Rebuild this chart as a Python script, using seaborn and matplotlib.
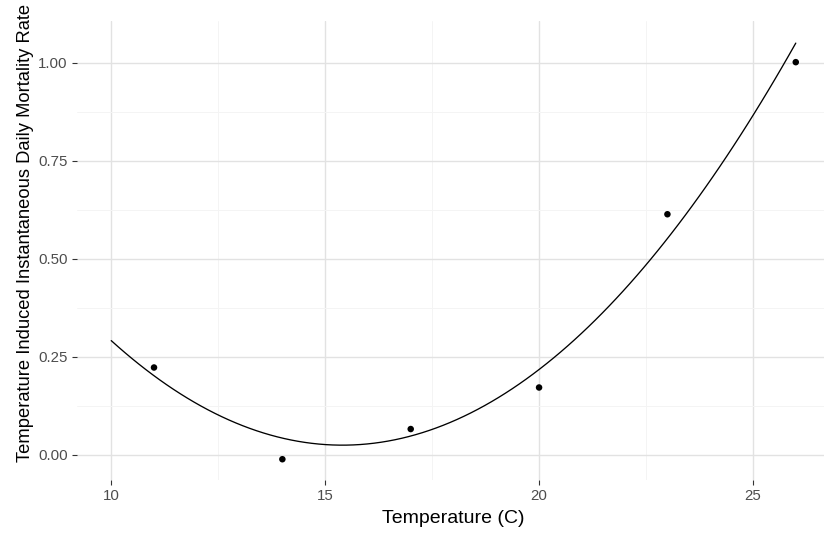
import matplotlib
matplotlib.use("Agg")
import matplotlib.pyplot as plt
import seaborn as sns
import pandas as pd
from matplotlib.ticker import FixedLocator

# Observed points
temperature = [11, 14, 17, 20, 23, 26]
mortality = [0.223, -0.011, 0.066, 0.172, 0.614, 1.002]

# Fitted quadratic curve
curve_temp = [10, 11, 12, 13, 14, 15, 16, 17, 18, 19, 20, 21, 22, 23, 24, 25, 26]
curve_rate = [0.286, 0.199, 0.133, 0.082, 0.047, 0.031, 0.030, 0.050, 0.084,
              0.140, 0.212, 0.312, 0.420, 0.550, 0.697, 0.870, 1.054]

x_ticks = [10, 15, 20, 25]
x_minor = [12.5, 17.5, 22.5]
y_ticks = [0.00, 0.25, 0.50, 0.75, 1.00]
y_minor = [0.125, 0.375, 0.625, 0.875]
y_tick_labels = ["0.00", "0.25", "0.50", "0.75", "1.00"]

sns.set_style("white")
plt.rcParams["font.family"] = ["Liberation Sans", "DejaVu Sans"]

fig = plt.figure(figsize=(8.24, 5.40), dpi=100)
W, H = 824, 540
left, right, top, bottom = 77, 830, 21, 480
ax = fig.add_axes([left / W, (H - bottom) / H, (right - left) / W, (bottom - top) / H])

pts = pd.DataFrame({"temp": temperature, "rate": mortality})
cur = pd.DataFrame({"temp": curve_temp, "rate": curve_rate})

# smooth quadratic line through the read curve values
sns.regplot(data=cur, x="temp", y="rate", order=2, ci=None, scatter=False,
            line_kws={"color": "black", "linewidth": 0.95, "zorder": 3}, ax=ax)
sns.scatterplot(data=pts, x="temp", y="rate", color="black", s=22, edgecolor="none", ax=ax, zorder=4)

ax.set_xlim(9.2, 26.8)
ax.set_ylim(-0.064, 1.107)

ax.xaxis.set_major_locator(FixedLocator(x_ticks))
ax.xaxis.set_minor_locator(FixedLocator(x_minor))
ax.yaxis.set_major_locator(FixedLocator(y_ticks))
ax.yaxis.set_minor_locator(FixedLocator(y_minor))
ax.set_yticklabels(y_tick_labels)
ax.set_xticklabels([str(t) for t in x_ticks])

ax.grid(which="major", color="#e2e2e2", linewidth=1.0)
ax.grid(which="minor", color="#f4f4f4", linewidth=0.7)
ax.set_axisbelow(True)

for s in ax.spines.values():
    s.set_visible(False)

ax.tick_params(which="major", direction="out", length=3.3, width=0.8, color="#333333",
               labelsize=10.8, labelcolor="#4d4d4d", pad=3.5, bottom=True, left=True)
ax.tick_params(which="minor", length=0)

ax.set_xlabel("Temperature (C)", fontsize=14, color="black", labelpad=5)
ax.set_ylabel("Temperature Induced Instantaneous Daily Mortality Rate", fontsize=13.2,
              color="black", labelpad=3)
ax.yaxis.label.set_y((bottom - 233) / (bottom - top))

fig.savefig("out.png", dpi=100)
